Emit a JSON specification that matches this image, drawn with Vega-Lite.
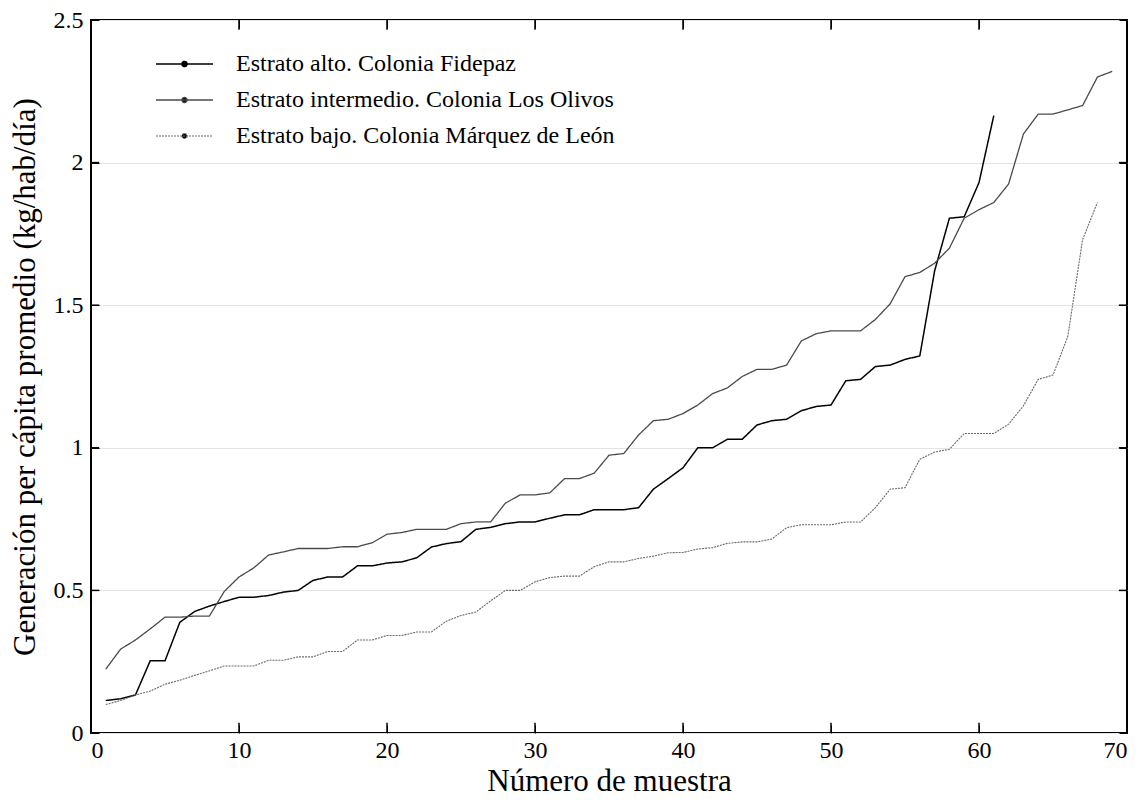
{
"$schema": "https://vega.github.io/schema/vega-lite/v6.json",
"width": 1036, "height": 713,
"autosize": {"type": "none"},
"padding": {"left": 91, "top": 20, "right": 17, "bottom": 68},
"config": {
  "font": "Liberation Serif",
  "view": {"stroke": "black", "strokeWidth": 2},
  "axis": {"labelColor": "black", "titleColor": "black", "titleFontWeight": "normal", "labelFontSize": 24, "titleFontSize": 31, "domain": false}
},
"data": {"values": [
{"serie":"Estrato alto. Colonia Fidepaz","n":1,"g":0.114},{"serie":"Estrato alto. Colonia Fidepaz","n":2,"g":0.12},{"serie":"Estrato alto. Colonia Fidepaz","n":3,"g":0.133},{"serie":"Estrato alto. Colonia Fidepaz","n":4,"g":0.253},{"serie":"Estrato alto. Colonia Fidepaz","n":5,"g":0.253},{"serie":"Estrato alto. Colonia Fidepaz","n":6,"g":0.388},{"serie":"Estrato alto. Colonia Fidepaz","n":7,"g":0.426},{"serie":"Estrato alto. Colonia Fidepaz","n":8,"g":0.445},{"serie":"Estrato alto. Colonia Fidepaz","n":9,"g":0.461},{"serie":"Estrato alto. Colonia Fidepaz","n":10,"g":0.476},
{"serie":"Estrato alto. Colonia Fidepaz","n":11,"g":0.476},{"serie":"Estrato alto. Colonia Fidepaz","n":12,"g":0.482},{"serie":"Estrato alto. Colonia Fidepaz","n":13,"g":0.494},{"serie":"Estrato alto. Colonia Fidepaz","n":14,"g":0.5},{"serie":"Estrato alto. Colonia Fidepaz","n":15,"g":0.535},{"serie":"Estrato alto. Colonia Fidepaz","n":16,"g":0.547},{"serie":"Estrato alto. Colonia Fidepaz","n":17,"g":0.547},{"serie":"Estrato alto. Colonia Fidepaz","n":18,"g":0.586},{"serie":"Estrato alto. Colonia Fidepaz","n":19,"g":0.586},{"serie":"Estrato alto. Colonia Fidepaz","n":20,"g":0.596},
{"serie":"Estrato alto. Colonia Fidepaz","n":21,"g":0.6},{"serie":"Estrato alto. Colonia Fidepaz","n":22,"g":0.614},{"serie":"Estrato alto. Colonia Fidepaz","n":23,"g":0.652},{"serie":"Estrato alto. Colonia Fidepaz","n":24,"g":0.664},{"serie":"Estrato alto. Colonia Fidepaz","n":25,"g":0.671},{"serie":"Estrato alto. Colonia Fidepaz","n":26,"g":0.714},{"serie":"Estrato alto. Colonia Fidepaz","n":27,"g":0.721},{"serie":"Estrato alto. Colonia Fidepaz","n":28,"g":0.734},{"serie":"Estrato alto. Colonia Fidepaz","n":29,"g":0.74},{"serie":"Estrato alto. Colonia Fidepaz","n":30,"g":0.74},
{"serie":"Estrato alto. Colonia Fidepaz","n":31,"g":0.753},{"serie":"Estrato alto. Colonia Fidepaz","n":32,"g":0.765},{"serie":"Estrato alto. Colonia Fidepaz","n":33,"g":0.765},{"serie":"Estrato alto. Colonia Fidepaz","n":34,"g":0.783},{"serie":"Estrato alto. Colonia Fidepaz","n":35,"g":0.783},{"serie":"Estrato alto. Colonia Fidepaz","n":36,"g":0.783},{"serie":"Estrato alto. Colonia Fidepaz","n":37,"g":0.79},{"serie":"Estrato alto. Colonia Fidepaz","n":38,"g":0.855},{"serie":"Estrato alto. Colonia Fidepaz","n":39,"g":0.892},{"serie":"Estrato alto. Colonia Fidepaz","n":40,"g":0.93},
{"serie":"Estrato alto. Colonia Fidepaz","n":41,"g":1.0},{"serie":"Estrato alto. Colonia Fidepaz","n":42,"g":1.0},{"serie":"Estrato alto. Colonia Fidepaz","n":43,"g":1.03},{"serie":"Estrato alto. Colonia Fidepaz","n":44,"g":1.03},{"serie":"Estrato alto. Colonia Fidepaz","n":45,"g":1.08},{"serie":"Estrato alto. Colonia Fidepaz","n":46,"g":1.095},{"serie":"Estrato alto. Colonia Fidepaz","n":47,"g":1.1},{"serie":"Estrato alto. Colonia Fidepaz","n":48,"g":1.13},{"serie":"Estrato alto. Colonia Fidepaz","n":49,"g":1.145},{"serie":"Estrato alto. Colonia Fidepaz","n":50,"g":1.15},
{"serie":"Estrato alto. Colonia Fidepaz","n":51,"g":1.235},{"serie":"Estrato alto. Colonia Fidepaz","n":52,"g":1.24},{"serie":"Estrato alto. Colonia Fidepaz","n":53,"g":1.285},{"serie":"Estrato alto. Colonia Fidepaz","n":54,"g":1.29},{"serie":"Estrato alto. Colonia Fidepaz","n":55,"g":1.31},{"serie":"Estrato alto. Colonia Fidepaz","n":56,"g":1.322},{"serie":"Estrato alto. Colonia Fidepaz","n":57,"g":1.62},{"serie":"Estrato alto. Colonia Fidepaz","n":58,"g":1.805},{"serie":"Estrato alto. Colonia Fidepaz","n":59,"g":1.81},{"serie":"Estrato alto. Colonia Fidepaz","n":60,"g":1.93},
{"serie":"Estrato alto. Colonia Fidepaz","n":61,"g":2.165},
{"serie":"Estrato intermedio. Colonia Los Olivos","n":1,"g":0.224},{"serie":"Estrato intermedio. Colonia Los Olivos","n":2,"g":0.294},{"serie":"Estrato intermedio. Colonia Los Olivos","n":3,"g":0.326},{"serie":"Estrato intermedio. Colonia Los Olivos","n":4,"g":0.365},{"serie":"Estrato intermedio. Colonia Los Olivos","n":5,"g":0.406},{"serie":"Estrato intermedio. Colonia Los Olivos","n":6,"g":0.406},{"serie":"Estrato intermedio. Colonia Los Olivos","n":7,"g":0.41},{"serie":"Estrato intermedio. Colonia Los Olivos","n":8,"g":0.41},{"serie":"Estrato intermedio. Colonia Los Olivos","n":9,"g":0.496},{"serie":"Estrato intermedio. Colonia Los Olivos","n":10,"g":0.547},
{"serie":"Estrato intermedio. Colonia Los Olivos","n":11,"g":0.579},{"serie":"Estrato intermedio. Colonia Los Olivos","n":12,"g":0.624},{"serie":"Estrato intermedio. Colonia Los Olivos","n":13,"g":0.635},{"serie":"Estrato intermedio. Colonia Los Olivos","n":14,"g":0.647},{"serie":"Estrato intermedio. Colonia Los Olivos","n":15,"g":0.647},{"serie":"Estrato intermedio. Colonia Los Olivos","n":16,"g":0.647},{"serie":"Estrato intermedio. Colonia Los Olivos","n":17,"g":0.653},{"serie":"Estrato intermedio. Colonia Los Olivos","n":18,"g":0.653},{"serie":"Estrato intermedio. Colonia Los Olivos","n":19,"g":0.667},{"serie":"Estrato intermedio. Colonia Los Olivos","n":20,"g":0.697},
{"serie":"Estrato intermedio. Colonia Los Olivos","n":21,"g":0.703},{"serie":"Estrato intermedio. Colonia Los Olivos","n":22,"g":0.714},{"serie":"Estrato intermedio. Colonia Los Olivos","n":23,"g":0.714},{"serie":"Estrato intermedio. Colonia Los Olivos","n":24,"g":0.714},{"serie":"Estrato intermedio. Colonia Los Olivos","n":25,"g":0.734},{"serie":"Estrato intermedio. Colonia Los Olivos","n":26,"g":0.74},{"serie":"Estrato intermedio. Colonia Los Olivos","n":27,"g":0.74},{"serie":"Estrato intermedio. Colonia Los Olivos","n":28,"g":0.806},{"serie":"Estrato intermedio. Colonia Los Olivos","n":29,"g":0.835},{"serie":"Estrato intermedio. Colonia Los Olivos","n":30,"g":0.835},
{"serie":"Estrato intermedio. Colonia Los Olivos","n":31,"g":0.842},{"serie":"Estrato intermedio. Colonia Los Olivos","n":32,"g":0.892},{"serie":"Estrato intermedio. Colonia Los Olivos","n":33,"g":0.892},{"serie":"Estrato intermedio. Colonia Los Olivos","n":34,"g":0.911},{"serie":"Estrato intermedio. Colonia Los Olivos","n":35,"g":0.974},{"serie":"Estrato intermedio. Colonia Los Olivos","n":36,"g":0.98},{"serie":"Estrato intermedio. Colonia Los Olivos","n":37,"g":1.045},{"serie":"Estrato intermedio. Colonia Los Olivos","n":38,"g":1.095},{"serie":"Estrato intermedio. Colonia Los Olivos","n":39,"g":1.1},{"serie":"Estrato intermedio. Colonia Los Olivos","n":40,"g":1.12},
{"serie":"Estrato intermedio. Colonia Los Olivos","n":41,"g":1.15},{"serie":"Estrato intermedio. Colonia Los Olivos","n":42,"g":1.19},{"serie":"Estrato intermedio. Colonia Los Olivos","n":43,"g":1.21},{"serie":"Estrato intermedio. Colonia Los Olivos","n":44,"g":1.25},{"serie":"Estrato intermedio. Colonia Los Olivos","n":45,"g":1.275},{"serie":"Estrato intermedio. Colonia Los Olivos","n":46,"g":1.275},{"serie":"Estrato intermedio. Colonia Los Olivos","n":47,"g":1.29},{"serie":"Estrato intermedio. Colonia Los Olivos","n":48,"g":1.375},{"serie":"Estrato intermedio. Colonia Los Olivos","n":49,"g":1.4},{"serie":"Estrato intermedio. Colonia Los Olivos","n":50,"g":1.41},
{"serie":"Estrato intermedio. Colonia Los Olivos","n":51,"g":1.41},{"serie":"Estrato intermedio. Colonia Los Olivos","n":52,"g":1.41},{"serie":"Estrato intermedio. Colonia Los Olivos","n":53,"g":1.45},{"serie":"Estrato intermedio. Colonia Los Olivos","n":54,"g":1.505},{"serie":"Estrato intermedio. Colonia Los Olivos","n":55,"g":1.6},{"serie":"Estrato intermedio. Colonia Los Olivos","n":56,"g":1.615},{"serie":"Estrato intermedio. Colonia Los Olivos","n":57,"g":1.647},{"serie":"Estrato intermedio. Colonia Los Olivos","n":58,"g":1.7},{"serie":"Estrato intermedio. Colonia Los Olivos","n":59,"g":1.805},{"serie":"Estrato intermedio. Colonia Los Olivos","n":60,"g":1.835},
{"serie":"Estrato intermedio. Colonia Los Olivos","n":61,"g":1.86},{"serie":"Estrato intermedio. Colonia Los Olivos","n":62,"g":1.925},{"serie":"Estrato intermedio. Colonia Los Olivos","n":63,"g":2.1},{"serie":"Estrato intermedio. Colonia Los Olivos","n":64,"g":2.17},{"serie":"Estrato intermedio. Colonia Los Olivos","n":65,"g":2.17},{"serie":"Estrato intermedio. Colonia Los Olivos","n":66,"g":2.185},{"serie":"Estrato intermedio. Colonia Los Olivos","n":67,"g":2.2},{"serie":"Estrato intermedio. Colonia Los Olivos","n":68,"g":2.3},{"serie":"Estrato intermedio. Colonia Los Olivos","n":69,"g":2.32},
{"serie":"Estrato bajo. Colonia Márquez de León","n":1,"g":0.1},{"serie":"Estrato bajo. Colonia Márquez de León","n":2,"g":0.114},{"serie":"Estrato bajo. Colonia Márquez de León","n":3,"g":0.133},{"serie":"Estrato bajo. Colonia Márquez de León","n":4,"g":0.147},{"serie":"Estrato bajo. Colonia Márquez de León","n":5,"g":0.171},{"serie":"Estrato bajo. Colonia Márquez de León","n":6,"g":0.185},{"serie":"Estrato bajo. Colonia Márquez de León","n":7,"g":0.202},{"serie":"Estrato bajo. Colonia Márquez de León","n":8,"g":0.218},{"serie":"Estrato bajo. Colonia Márquez de León","n":9,"g":0.235},{"serie":"Estrato bajo. Colonia Márquez de León","n":10,"g":0.235},
{"serie":"Estrato bajo. Colonia Márquez de León","n":11,"g":0.235},{"serie":"Estrato bajo. Colonia Márquez de León","n":12,"g":0.255},{"serie":"Estrato bajo. Colonia Márquez de León","n":13,"g":0.255},{"serie":"Estrato bajo. Colonia Márquez de León","n":14,"g":0.267},{"serie":"Estrato bajo. Colonia Márquez de León","n":15,"g":0.267},{"serie":"Estrato bajo. Colonia Márquez de León","n":16,"g":0.286},{"serie":"Estrato bajo. Colonia Márquez de León","n":17,"g":0.286},{"serie":"Estrato bajo. Colonia Márquez de León","n":18,"g":0.326},{"serie":"Estrato bajo. Colonia Márquez de León","n":19,"g":0.326},{"serie":"Estrato bajo. Colonia Márquez de León","n":20,"g":0.342},
{"serie":"Estrato bajo. Colonia Márquez de León","n":21,"g":0.342},{"serie":"Estrato bajo. Colonia Márquez de León","n":22,"g":0.354},{"serie":"Estrato bajo. Colonia Márquez de León","n":23,"g":0.354},{"serie":"Estrato bajo. Colonia Márquez de León","n":24,"g":0.392},{"serie":"Estrato bajo. Colonia Márquez de León","n":25,"g":0.412},{"serie":"Estrato bajo. Colonia Márquez de León","n":26,"g":0.424},{"serie":"Estrato bajo. Colonia Márquez de León","n":27,"g":0.463},{"serie":"Estrato bajo. Colonia Márquez de León","n":28,"g":0.5},{"serie":"Estrato bajo. Colonia Márquez de León","n":29,"g":0.5},{"serie":"Estrato bajo. Colonia Márquez de León","n":30,"g":0.53},
{"serie":"Estrato bajo. Colonia Márquez de León","n":31,"g":0.545},{"serie":"Estrato bajo. Colonia Márquez de León","n":32,"g":0.55},{"serie":"Estrato bajo. Colonia Márquez de León","n":33,"g":0.55},{"serie":"Estrato bajo. Colonia Márquez de León","n":34,"g":0.583},{"serie":"Estrato bajo. Colonia Márquez de León","n":35,"g":0.6},{"serie":"Estrato bajo. Colonia Márquez de León","n":36,"g":0.6},{"serie":"Estrato bajo. Colonia Márquez de León","n":37,"g":0.612},{"serie":"Estrato bajo. Colonia Márquez de León","n":38,"g":0.62},{"serie":"Estrato bajo. Colonia Márquez de León","n":39,"g":0.632},{"serie":"Estrato bajo. Colonia Márquez de León","n":40,"g":0.633},
{"serie":"Estrato bajo. Colonia Márquez de León","n":41,"g":0.645},{"serie":"Estrato bajo. Colonia Márquez de León","n":42,"g":0.65},{"serie":"Estrato bajo. Colonia Márquez de León","n":43,"g":0.665},{"serie":"Estrato bajo. Colonia Márquez de León","n":44,"g":0.67},{"serie":"Estrato bajo. Colonia Márquez de León","n":45,"g":0.67},{"serie":"Estrato bajo. Colonia Márquez de León","n":46,"g":0.68},{"serie":"Estrato bajo. Colonia Márquez de León","n":47,"g":0.72},{"serie":"Estrato bajo. Colonia Márquez de León","n":48,"g":0.73},{"serie":"Estrato bajo. Colonia Márquez de León","n":49,"g":0.73},{"serie":"Estrato bajo. Colonia Márquez de León","n":50,"g":0.73},
{"serie":"Estrato bajo. Colonia Márquez de León","n":51,"g":0.74},{"serie":"Estrato bajo. Colonia Márquez de León","n":52,"g":0.74},{"serie":"Estrato bajo. Colonia Márquez de León","n":53,"g":0.79},{"serie":"Estrato bajo. Colonia Márquez de León","n":54,"g":0.855},{"serie":"Estrato bajo. Colonia Márquez de León","n":55,"g":0.86},{"serie":"Estrato bajo. Colonia Márquez de León","n":56,"g":0.96},{"serie":"Estrato bajo. Colonia Márquez de León","n":57,"g":0.985},{"serie":"Estrato bajo. Colonia Márquez de León","n":58,"g":0.995},{"serie":"Estrato bajo. Colonia Márquez de León","n":59,"g":1.05},{"serie":"Estrato bajo. Colonia Márquez de León","n":60,"g":1.05},
{"serie":"Estrato bajo. Colonia Márquez de León","n":61,"g":1.05},{"serie":"Estrato bajo. Colonia Márquez de León","n":62,"g":1.083},{"serie":"Estrato bajo. Colonia Márquez de León","n":63,"g":1.147},{"serie":"Estrato bajo. Colonia Márquez de León","n":64,"g":1.24},{"serie":"Estrato bajo. Colonia Márquez de León","n":65,"g":1.255},{"serie":"Estrato bajo. Colonia Márquez de León","n":66,"g":1.39},{"serie":"Estrato bajo. Colonia Márquez de León","n":67,"g":1.73},{"serie":"Estrato bajo. Colonia Márquez de León","n":68,"g":1.86}
]},
"layer": [
 {"mark": {"type": "line", "interpolate": "linear"},
  "encoding": {
   "x": {"field": "n", "type": "quantitative", "scale": {"domain": [0, 70], "nice": false, "zero": false},
         "axis": {"orient": "bottom", "values": [0,10,20,30,40,50,60,70], "title": "Número de muestra", "grid": false, "ticks": true, "offset": -8, "tickSize": 8, "tickColor": "#000000", "tickWidth": 1, "labelPadding": 5, "titlePadding": 4}},
   "y": {"field": "g", "type": "quantitative", "scale": {"domain": [0, 2.5], "nice": false},
         "axis": {"orient": "left", "values": [0,0.5,1,1.5,2,2.5], "format": "~g", "title": "Generación per cápita promedio (kg/hab/día)", "grid": true, "gridColor": "#e4e4e4", "gridWidth": 1, "ticks": true, "offset": -8, "tickSize": 8, "tickColor": "#000000", "tickWidth": 1, "labelPadding": 8, "titlePadding": 12}},
   "color": {"field": "serie", "type": "nominal",
     "scale": {"domain": ["Estrato alto. Colonia Fidepaz", "Estrato intermedio. Colonia Los Olivos", "Estrato bajo. Colonia Márquez de León"], "range": ["#000000", "#4a4a4a", "#6a6a6a"]},
     "legend": {"title": null, "orient": "none", "legendX": 64, "legendY": 27, "padding": 0, "clipHeight": 34, "rowPadding": 2, "labelFontSize": 24, "labelColor": "black", "labelOffset": 22, "symbolSize": 3249, "symbolStrokeWidth": 1, "symbolType": "M-1,0H1M0.09,0A0.09,0.09,0,1,1,-0.09,0A0.09,0.09,0,1,1,0.09,0Z", "labelLimit": 600,
       "encode": {"symbols": {"update": {"fill": {"value": "black"}}}}}},
   "strokeDash": {"field": "serie", "type": "nominal",
     "scale": {"domain": ["Estrato alto. Colonia Fidepaz", "Estrato intermedio. Colonia Los Olivos", "Estrato bajo. Colonia Márquez de León"], "range": [[1,0],[1,0],[2,1]]},
     "legend": {"title": null, "orient": "none", "legendX": 64, "legendY": 27, "padding": 0, "clipHeight": 34, "rowPadding": 2, "labelFontSize": 24, "labelColor": "black", "labelOffset": 22, "symbolSize": 3249, "symbolStrokeWidth": 1, "symbolType": "M-1,0H1M0.09,0A0.09,0.09,0,1,1,-0.09,0A0.09,0.09,0,1,1,0.09,0Z", "labelLimit": 600,
       "encode": {"symbols": {"update": {"fill": {"value": "black"}}}}}},
   "strokeWidth": {"field": "serie", "type": "ordinal",
     "scale": {"domain": ["Estrato alto. Colonia Fidepaz", "Estrato intermedio. Colonia Los Olivos", "Estrato bajo. Colonia Márquez de León"], "range": [1.5, 1.1, 1.1]},
     "legend": null}
  }},
 {"mark": {"type": "point", "opacity": 0},
  "encoding": {
   "x": {"field": "n", "type": "quantitative", "scale": {"domain": [0, 70], "nice": false, "zero": false},
         "axis": {"orient": "top", "values": [0,10,20,30,40,50,60,70], "labels": false, "title": null, "grid": false, "ticks": true, "offset": -8, "tickSize": 8, "tickColor": "#000000", "tickWidth": 1}},
   "y": {"field": "g", "type": "quantitative", "scale": {"domain": [0, 2.5], "nice": false},
         "axis": {"orient": "right", "values": [0,0.5,1,1.5,2,2.5], "labels": false, "title": null, "grid": false, "ticks": true, "offset": -8, "tickSize": 8, "tickColor": "#000000", "tickWidth": 1}}
  }},
 {"data": {"values": [{"t": 10}, {"t": 20}, {"t": 30}, {"t": 40}, {"t": 50}, {"t": 60}]},
  "mark": {"type": "rule", "color": "black", "strokeWidth": 1.5},
  "encoding": {
   "x": {"field": "t", "type": "quantitative", "axis": null},
   "y": {"datum": 0, "type": "quantitative", "axis": null},
   "y2": {"datum": 0.036}
  }},
 {"data": {"values": [{"t": 10}, {"t": 20}, {"t": 30}, {"t": 40}, {"t": 50}, {"t": 60}]},
  "mark": {"type": "rule", "color": "black", "strokeWidth": 1.5},
  "encoding": {
   "x": {"field": "t", "type": "quantitative", "axis": null},
   "y": {"datum": 2.5, "type": "quantitative", "axis": null},
   "y2": {"datum": 2.466}
  }},
 {"data": {"values": [{"t": 0.5}, {"t": 1}, {"t": 1.5}, {"t": 2}]},
  "mark": {"type": "rule", "color": "black", "strokeWidth": 1.5},
  "encoding": {
   "y": {"field": "t", "type": "quantitative", "axis": null},
   "x": {"datum": 0, "type": "quantitative", "axis": null},
   "x2": {"datum": 0.55}
  }},
 {"data": {"values": [{"t": 0.5}, {"t": 1}, {"t": 1.5}, {"t": 2}]},
  "mark": {"type": "rule", "color": "black", "strokeWidth": 1.5},
  "encoding": {
   "y": {"field": "t", "type": "quantitative", "axis": null},
   "x": {"datum": 70, "type": "quantitative", "axis": null},
   "x2": {"datum": 69.45}
  }}
],
"resolve": {"axis": {"x": "independent", "y": "independent"}}
}
